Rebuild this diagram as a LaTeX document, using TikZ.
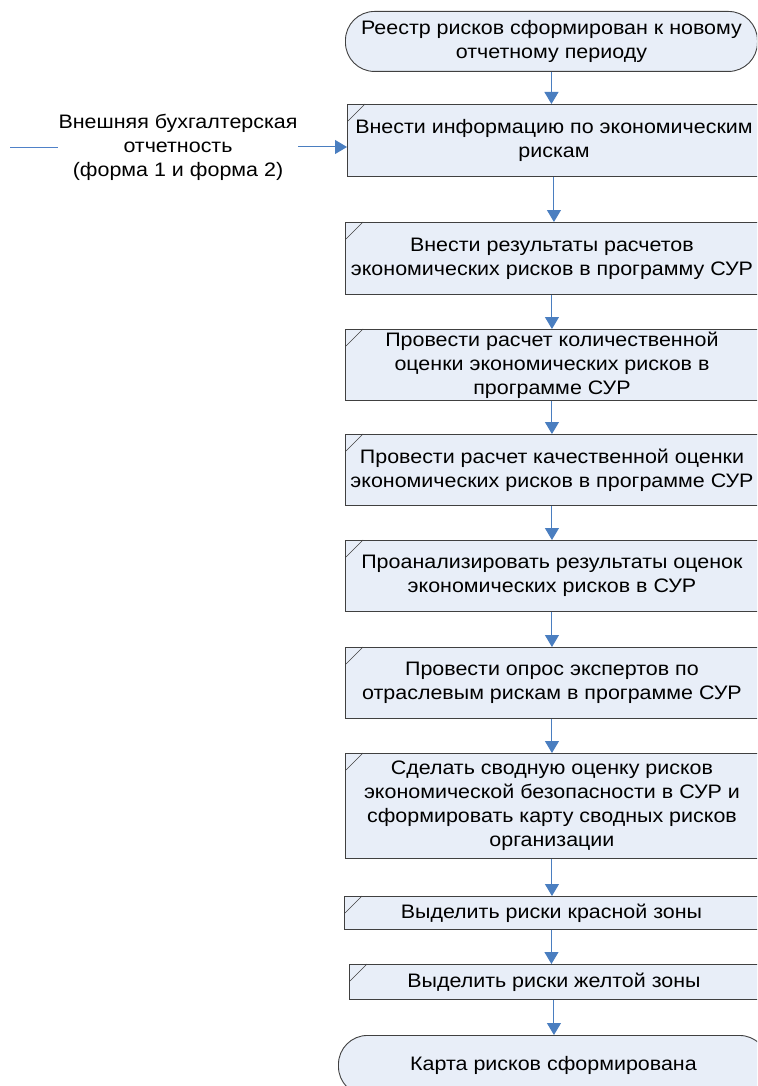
\documentclass[tikz,border=0pt]{standalone}
\usepackage{fontspec}
\setmainfont{Liberation Sans}[FakeStretch=1.1]
\usetikzlibrary{arrows.meta}
\definecolor{boxfill}{HTML}{E8EEF8}
\definecolor{arrowblue}{HTML}{4A7EC0}
\definecolor{lineblue}{HTML}{4F81C8}
\begin{document}
\begin{tikzpicture}[x=1pt,y=-1pt,
  txt/.style={font=\fontsize{19.5}{24}\selectfont, align=center, inner sep=0pt},
  proc/.style={txt, draw=black!75, fill=boxfill, line width=0.9pt, anchor=north west, minimum width=#1},
  proc/.default=413,
  term/.style={txt, draw=black!75, fill=boxfill, line width=0.9pt, anchor=north west, rounded corners=29pt},
  arr/.style={draw=arrowblue, line width=1pt, -{Triangle[length=12pt,width=14pt]}},
  corner/.style={draw=black!75, line width=0.6pt}
]
\clip (0,0) rectangle (757,1086);
\fill[white] (0,0) rectangle (757,1086);

\node[term, minimum width=412, minimum height=60] (t1) at (345,11) {Реестр рисков сформирован к новому\\отчетному периоду};
\node[proc, minimum height=72] (b1) at (347,104) {Внести информацию по экономическим\\рискам};
\node[proc, minimum height=72] (b2) at (345,222) {Внести результаты расчетов\\экономических рисков в программу СУР};
\node[proc, minimum height=71] (b3) at (345,329) {Провести расчет количественной\\оценки экономических рисков в\\программе СУР};
\node[proc, minimum height=71] (b4) at (345,434) {Провести расчет качественной оценки\\экономических рисков в программе СУР};
\node[proc, minimum height=71] (b5) at (345,540) {Проанализировать результаты оценок\\экономических рисков в СУР};
\node[proc, minimum height=71] (b6) at (345,647) {Провести опрос экспертов по\\отраслевым рискам в программе СУР};
\node[proc, minimum height=105] (b7) at (345,753) {Сделать сводную оценку рисков\\экономической безопасности в СУР и\\сформировать карту сводных рисков\\организации};
\node[proc=414, minimum height=33] (b8) at (344,896) {Выделить риски красной зоны};
\node[proc=409, minimum height=35] (b9) at (349,964) {Выделить риски желтой зоны};
\node[term, minimum width=430, minimum height=60] (t2) at (338,1035) {Карта рисков сформирована};

\foreach \b in {b1,b2,b3,b4,b5,b6,b7,b8,b9}
  \draw[corner] (\b.north west) ++(1,17) -- ++(17,-17);

\draw[arr] (t1.south) -- (t1.south |- b1.north);
\draw[arr] (b1.south) -- (b1.south |- b2.north);
\draw[arr] (b2.south) -- (b2.south |- b3.north);
\draw[arr] (b3.south) -- (b3.south |- b4.north);
\draw[arr] (b4.south) -- (b4.south |- b5.north);
\draw[arr] (b5.south) -- (b5.south |- b6.north);
\draw[arr] (b6.south) -- (b6.south |- b7.north);
\draw[arr] (b7.south) -- (b7.south |- b8.north);
\draw[arr] (b8.south) -- (b8.south |- b9.north);
\draw[arr] (b9.south) -- (b9.south |- t2.north);

\node[txt, minimum width=240] (lab) at (178,147) {Внешняя бухгалтерская\\отчетность\\(форма 1 и форма 2)};
\coordinate (ext) at (10,147);
\draw[draw=lineblue, line width=0.9pt] (ext) -- (lab.west);
\draw[arr] (lab.east) -- (b1.west |- lab.east);
\end{tikzpicture}
\end{document}
